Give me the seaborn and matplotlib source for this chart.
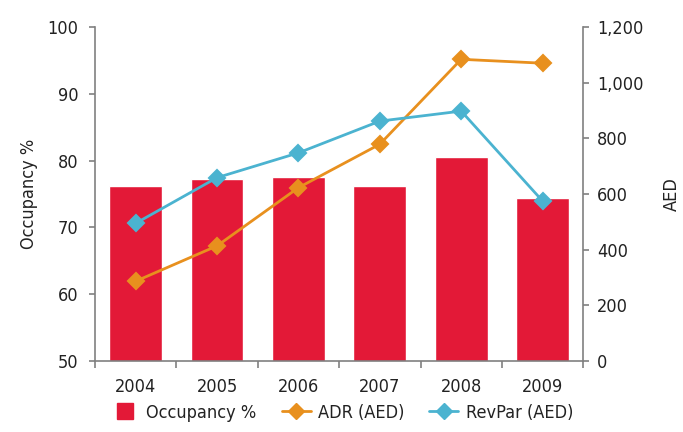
import matplotlib
matplotlib.use("Agg")
import matplotlib.pyplot as plt
import seaborn as sns
import pandas as pd
from matplotlib.lines import Line2D

years = ["2004", "2005", "2006", "2007", "2008", "2009"]
occupancy = [76.2, 77.2, 77.5, 76.2, 80.5, 74.4]
adr = [287, 414, 623, 779, 1084, 1070]
revpar = [495, 659, 748, 862, 898, 575]

sns.set_theme(style="white")
plt.rcParams["font.family"] = ["DejaVu Sans"]
plt.rcParams["font.stretch"] = "condensed"

RED = "#E31937"
ORANGE = "#E8901E"
BLUE = "#4BB3D0"
GREY = "#808080"
TXT = "#222222"
FS = 13

df = pd.DataFrame({"year": years, "occ": occupancy, "adr": adr, "revpar": revpar})

fig = plt.figure(figsize=(6.83, 4.32), dpi=100)
ax = fig.add_axes([0.139, 0.164, 0.715, 0.7735])
sns.barplot(data=df, x="year", y="occ", color=RED, width=0.65, ax=ax, saturation=1)
ax.set_ylim(50, 100)
ax.set_xlim(-0.5, 5.5)
ax.set_yticks([50, 60, 70, 80, 90, 100])
ax.set_ylabel("Occupancy %", fontsize=FS, color=TXT, labelpad=7)
ax.set_xlabel("")

ax2 = ax.twinx()
sns.pointplot(data=df, x="year", y="adr", color=ORANGE, markers="D", ax=ax2,
              markersize=8, linewidth=2)
sns.pointplot(data=df, x="year", y="revpar", color=BLUE, markers="D", ax=ax2,
              markersize=8, linewidth=2)
ax2.set_ylim(0, 1200)
ax2.set_xlim(-0.5, 5.5)
ax2.set_yticks(range(0, 1201, 200))
ax2.set_yticklabels([f"{v:,}" for v in range(0, 1201, 200)])
ax2.set_ylabel("AED", fontsize=FS, color=TXT, labelpad=14)
ax2.set_xlabel("")

for a in (ax, ax2):
    a.spines["top"].set_visible(False)
    for s in ("left", "right", "bottom"):
        a.spines[s].set_color(GREY)
        a.spines[s].set_linewidth(1.2)
ax.spines["right"].set_visible(False)
ax2.spines["left"].set_visible(False)
ax2.spines["bottom"].set_visible(False)

ax.tick_params(axis="y", direction="out", length=4, width=1.2, color=GREY,
               labelsize=FS, labelcolor=TXT, left=True, pad=8)
ax2.tick_params(axis="y", direction="out", length=4, width=1.2, color=GREY,
                labelsize=FS, labelcolor=TXT, right=True, pad=6)
ax.set_xticks([0, 1, 2, 3, 4, 5])
ax.set_xticklabels(years)
ax.tick_params(axis="x", which="major", length=0, labelsize=FS, labelcolor=TXT, pad=12)
ax.set_xticks([-0.5, 0.5, 1.5, 2.5, 3.5, 4.5, 5.5], minor=True)
ax.tick_params(axis="x", which="minor", direction="out", length=5, width=1.2,
               color=GREY, bottom=True)

handles = [
    Line2D([0], [0], color=RED, lw=0, marker="s", markersize=11, label="Occupancy %"),
    Line2D([0], [0], color=ORANGE, lw=2, marker="D", markersize=8, label="ADR (AED)"),
    Line2D([0], [0], color=BLUE, lw=2, marker="D", markersize=8, label="RevPar (AED)"),
]
fig.legend(handles=handles, loc="center", bbox_to_anchor=(0.5, 0.045), ncol=3,
           frameon=False, fontsize=FS, handlelength=1.6, handletextpad=0.4,
           columnspacing=1.4, labelcolor=TXT)

fig.savefig("out.png", dpi=100)
